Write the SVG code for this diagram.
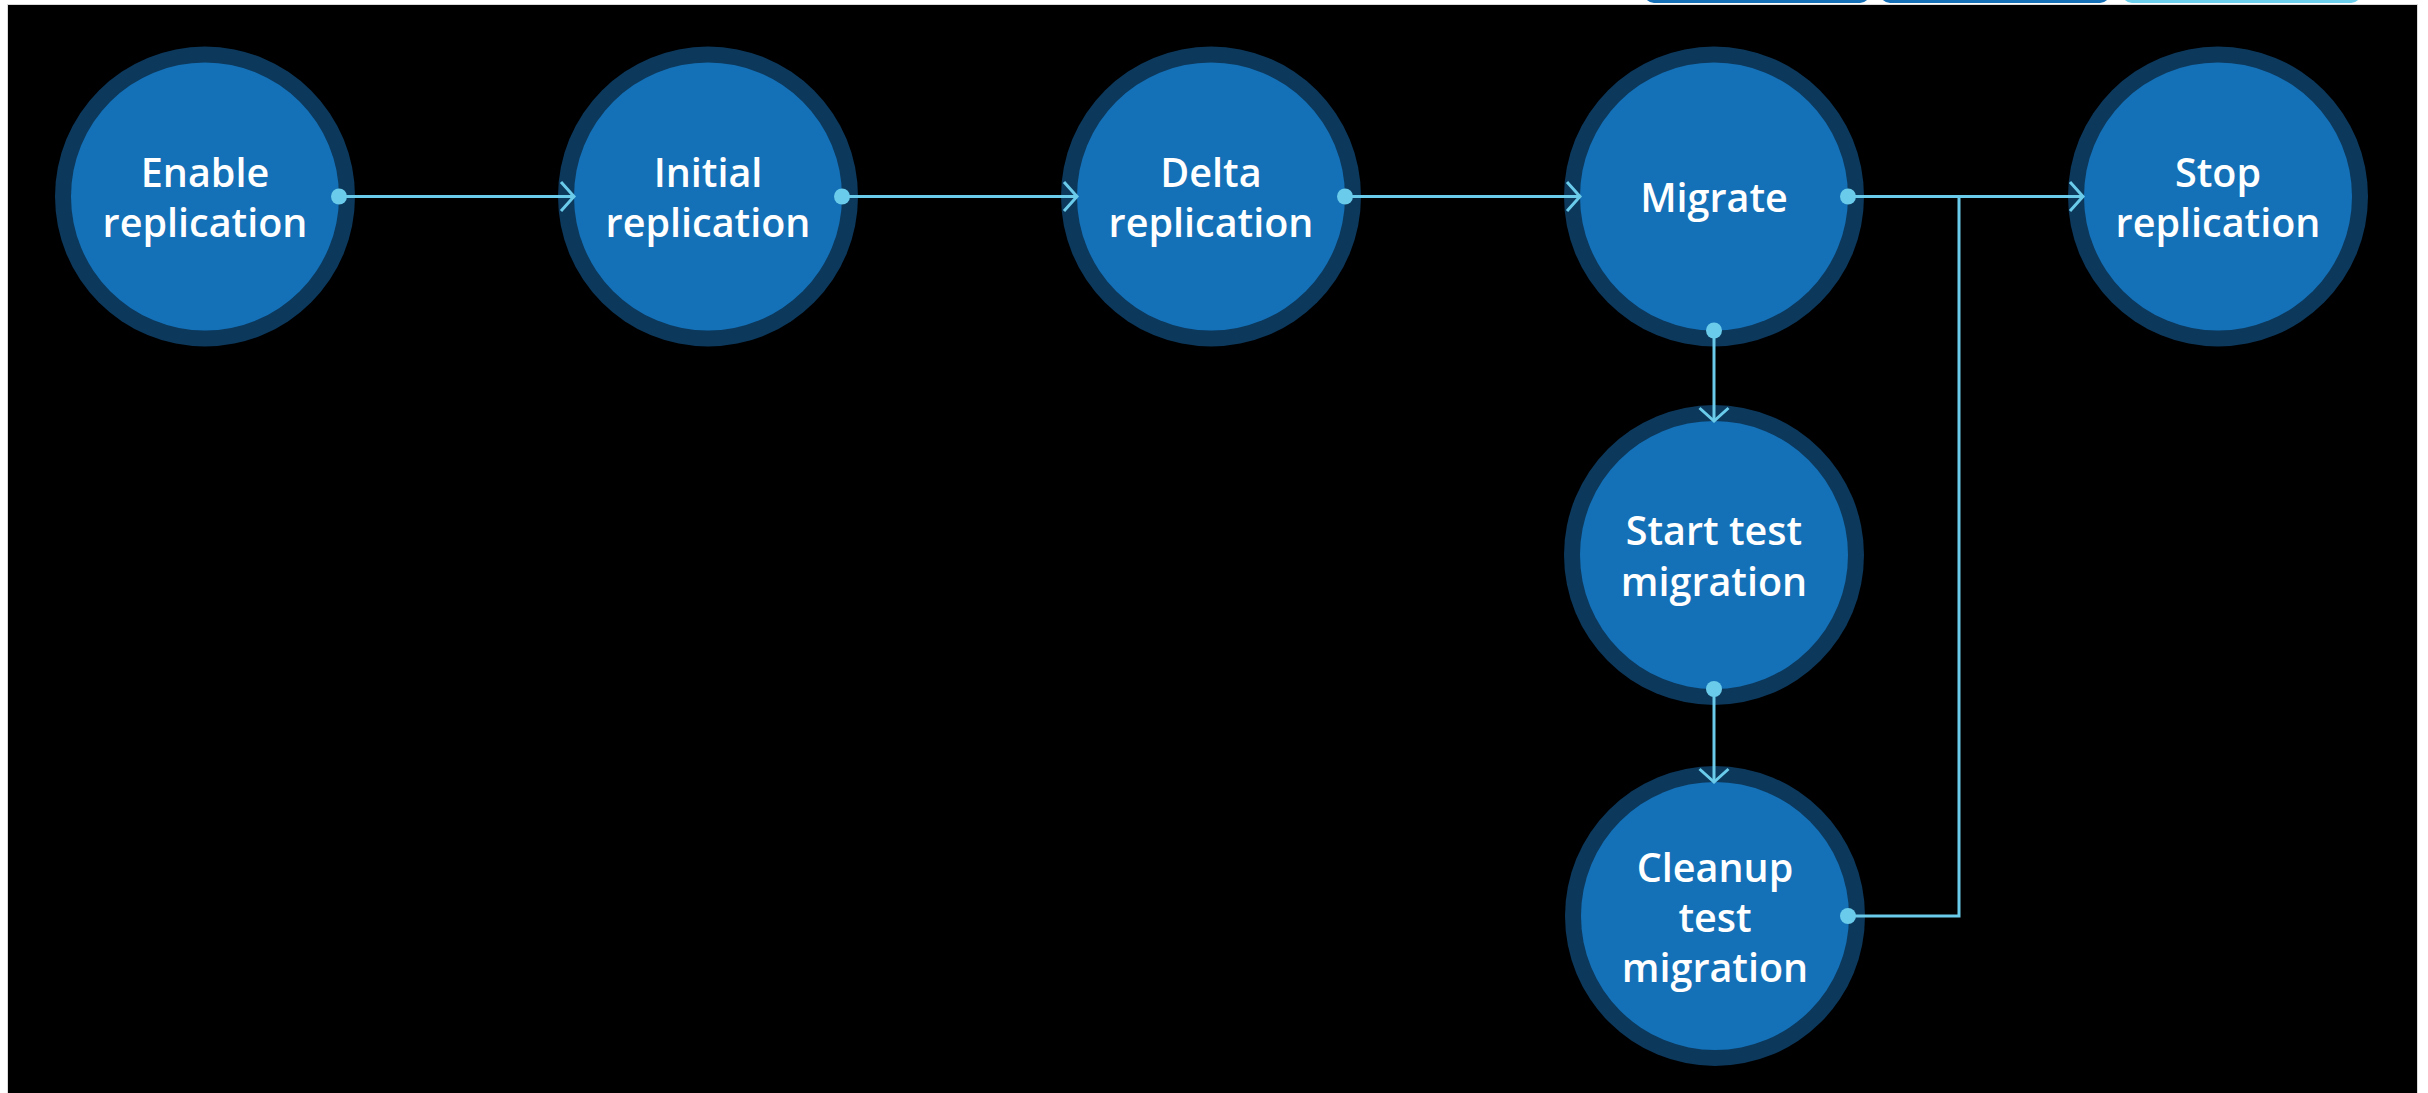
<svg xmlns="http://www.w3.org/2000/svg" width="2428" height="1093" viewBox="0 0 2428 1093">
  <style>
    .ring { fill: #0c385c; }
    .core { fill: #1471b8; }
    .label { fill: #ffffff; font-family: "Open Sans", "Noto Sans", "Liberation Sans", sans-serif; font-weight: 600; font-size: 39.5px; text-anchor: middle; }
    .link { fill: none; stroke: #6bcbea; stroke-width: 3; }
    .tab-dark { fill: #1570b8; }
    .tab-light { fill: #6ccfeb; }
  </style>
  <defs>
    <marker id="dot" markerUnits="userSpaceOnUse" markerWidth="20" markerHeight="20" refX="10" refY="10" viewBox="0 0 20 20" orient="auto">
      <circle cx="10" cy="10" r="8" fill="#6bcbea"/>
    </marker>
    <marker id="chevron" markerUnits="userSpaceOnUse" markerWidth="24" markerHeight="36" refX="18" refY="18" viewBox="0 0 24 36" orient="auto">
      <path d="M5,3.5 L18,18 L5,32.5" fill="none" stroke="#6bcbea" stroke-width="3"/>
    </marker>
  </defs>

  <!-- page -->
  <rect x="0" y="0" width="2428" height="1093" fill="#ffffff"/>
  <rect x="1644" y="-30" width="226" height="33" rx="10" class="tab-dark"/>
  <rect x="1880" y="-30" width="230" height="33" rx="10" class="tab-dark"/>
  <rect x="2122" y="-30" width="239" height="33" rx="10" class="tab-light"/>
  <rect x="7" y="4" width="2411" height="1100" fill="#d9d9d9"/>
  <rect x="8" y="5" width="2409" height="1100" fill="#000000"/>

  <!-- nodes -->
  <g id="enable-replication">
    <circle class="ring" cx="205" cy="196.5" r="150"/>
    <circle class="core" cx="205" cy="196.5" r="134"/>
    <text class="label" x="205" y="186.5">Enable</text>
    <text class="label" x="205" y="237">replication</text>
  </g>
  <g id="initial-replication">
    <circle class="ring" cx="708" cy="196.5" r="150"/>
    <circle class="core" cx="708" cy="196.5" r="134"/>
    <text class="label" x="708" y="186.5">Initial</text>
    <text class="label" x="708" y="237">replication</text>
  </g>
  <g id="delta-replication">
    <circle class="ring" cx="1211" cy="196.5" r="150"/>
    <circle class="core" cx="1211" cy="196.5" r="134"/>
    <text class="label" x="1211" y="186.5">Delta</text>
    <text class="label" x="1211" y="237">replication</text>
  </g>
  <g id="migrate">
    <circle class="ring" cx="1714" cy="196.5" r="150"/>
    <circle class="core" cx="1714" cy="196.5" r="134"/>
    <text class="label" x="1714" y="211.5">Migrate</text>
  </g>
  <g id="stop-replication">
    <circle class="ring" cx="2218" cy="196.5" r="150"/>
    <circle class="core" cx="2218" cy="196.5" r="134"/>
    <text class="label" x="2218" y="186.5">Stop</text>
    <text class="label" x="2218" y="237">replication</text>
  </g>
  <g id="start-test-migration">
    <circle class="ring" cx="1714" cy="555" r="150"/>
    <circle class="core" cx="1714" cy="555" r="134"/>
    <text class="label" x="1714" y="545">Start test</text>
    <text class="label" x="1714" y="595.5">migration</text>
  </g>
  <g id="cleanup-test-migration">
    <circle class="ring" cx="1715" cy="916" r="150"/>
    <circle class="core" cx="1715" cy="916" r="134"/>
    <text class="label" x="1715" y="881.5">Cleanup</text>
    <text class="label" x="1715" y="931.5">test</text>
    <text class="label" x="1715" y="982">migration</text>
  </g>

  <!-- connectors, drawn over the rings so dots and arrowheads show -->
  <g id="connectors">
    <path class="link" d="M339,196.5 H574" marker-start="url(#dot)" marker-end="url(#chevron)"/>
    <path class="link" d="M842,196.5 H1077" marker-start="url(#dot)" marker-end="url(#chevron)"/>
    <path class="link" d="M1345,196.5 H1580" marker-start="url(#dot)" marker-end="url(#chevron)"/>
    <path class="link" d="M1848,196.5 H2083" marker-start="url(#dot)" marker-end="url(#chevron)"/>
    <path class="link" d="M1714,330.5 V421" marker-start="url(#dot)" marker-end="url(#chevron)"/>
    <path class="link" d="M1714,689 V782" marker-start="url(#dot)" marker-end="url(#chevron)"/>
    <path class="link" d="M1848,916 H1959 V196.5" marker-start="url(#dot)"/>
  </g>
</svg>
